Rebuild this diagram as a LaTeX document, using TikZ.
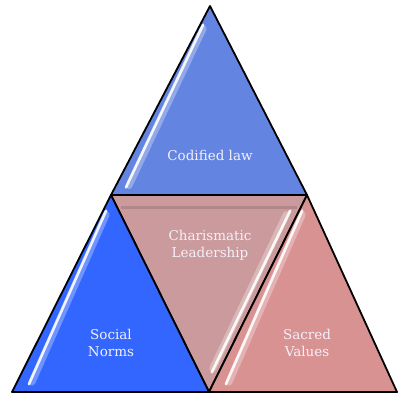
\documentclass[tikz,border=0pt]{standalone}
\usepackage{fontspec}
\setmainfont{DejaVu Serif}
\usetikzlibrary{calc}
\definecolor{lawblue}{RGB}{99,132,224}
\definecolor{normblue}{RGB}{51,102,255}
\definecolor{leadrose}{RGB}{202,154,156}
\definecolor{sacredrose}{RGB}{217,146,146}
\definecolor{lblwhite}{RGB}{244,240,250}

\begin{document}
\begin{tikzpicture}[x=1pt,y=-1pt,
  tri/.style={draw=black, line width=1.8pt, line join=round},
  shine/.style={white, line width=2.6pt, line cap=round, opacity=0.9},
  glow/.style={white, line width=7pt, line cap=round, opacity=0.3},
  shade/.style={black, line width=3pt, opacity=0.12},
  lbl/.style={text=lblwhite, font=\fontsize{13.5}{17}\selectfont, align=center}]
\useasboundingbox (0,0) rectangle (398,396);
% corners
\coordinate (apex) at (210,6);
\coordinate (midL) at (111,195);
\coordinate (midR) at (307,195);
\coordinate (baseL) at (12,392);
\coordinate (baseM) at (209,392);
\coordinate (baseR) at (397,392);
% codified law
\fill[lawblue] (apex) -- (midR) -- (midL) -- cycle;
\draw[glow] ($(apex)!.12!(midL)+(5,0)$) -- ($(midL)!.05!(apex)+(13,0)$);
\draw[shine] ($(apex)!.1!(midL)+(3,0)$) -- ($(midL)!.04!(apex)+(11,0)$);
\draw[tri] (apex) -- (midR) -- (midL) -- cycle;
% charismatic leadership
\fill[leadrose] (midL) -- (midR) -- (baseM) -- cycle;
\draw[shade] ($(midL)+(10,12)$) -- ($(midR)+(-10,12)$);
\draw[glow] ($(midR)!.1!(baseM)+(-11,0)$) -- ($(baseM)!.12!(midR)+(-8,0)$);
\draw[shine] ($(midR)!.08!(baseM)+(-9,0)$) -- ($(baseM)!.1!(midR)+(-7,0)$);
\draw[tri] (midL) -- (midR) -- (baseM) -- cycle;
% social norms
\fill[normblue] (midL) -- (baseM) -- (baseL) -- cycle;
\draw[glow] ($(midL)!.1!(baseL)+(5,0)$) -- ($(baseL)!.05!(midL)+(15,0)$);
\draw[shine] ($(midL)!.08!(baseL)+(3,0)$) -- ($(baseL)!.04!(midL)+(13,0)$);
\draw[tri] (midL) -- (baseM) -- (baseL) -- cycle;
% sacred values
\fill[sacredrose] (midR) -- (baseR) -- (baseM) -- cycle;
\draw[glow] ($(midR)!.1!(baseM)+(5,0)$) -- ($(baseM)!.05!(midR)+(15,0)$);
\draw[shine] ($(midR)!.08!(baseM)+(3,0)$) -- ($(baseM)!.04!(midR)+(13,0)$);
\draw[tri] (midR) -- (baseR) -- (baseM) -- cycle;
% labels
\node[lbl] (law) at (210,155) {Codified law};
\node[lbl] (lead) at (210,245) {Charismatic\\Leadership};
\node[lbl] (norms) at (111,343) {Social\\Norms};
\node[lbl] (sacred) at (307,343) {Sacred\\Values};
\end{tikzpicture}
\end{document}
